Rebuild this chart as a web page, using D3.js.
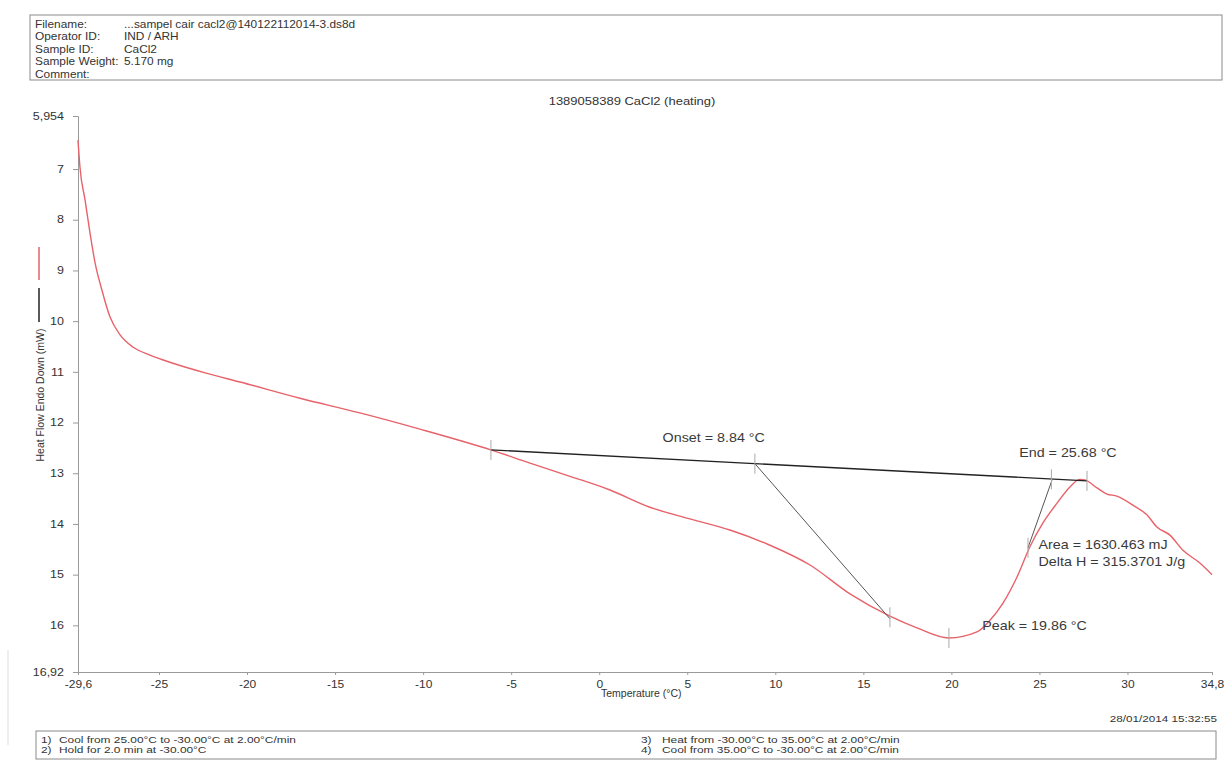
<!DOCTYPE html>
<html>
<head>
<meta charset="utf-8">
<script src="https://cdn.jsdelivr.net/npm/d3@7"></script>
<style>
  body { margin: 0; background: #fff; }
  svg text { font-family: "Liberation Sans", Arial, sans-serif; fill: #333; }
  .axis path, .axis line { stroke: #9a9a9a; }
  .axis text { font-size: 10px; fill: #333; }
</style>
</head>
<body>
<div id="chart-area"></div>
<script>
// header info
const headerLabels = ["Filename:", "Operator ID:", "Sample ID:", "Sample Weight:", "Comment:"];
const headerValues = ["...sampel cair cacl2@140122112014-3.ds8d", "IND / ARH", "CaCl2", "5.170 mg", ""];

// method steps
const stepNums = ["1)", "2)", "3)", "4)"];
const steps = ["Cool from 25.00°C to -30.00°C at 2.00°C/min", "Hold for 2.0 min at -30.00°C",
  "Heat from -30.00°C to 35.00°C at 2.00°C/min", "Cool from 35.00°C to -30.00°C at 2.00°C/min"];

// axis ticks
const xTicks = [-29.6, -25, -20, -15, -10, -5, 0, 5, 10, 15, 20, 25, 30, 34.8];
const yTicks = [5.954, 7, 8, 9, 10, 11, 12, 13, 14, 15, 16, 16.92];

// heat flow curve (temperature °C, heat flow mW)
const temps = [-29.6, -29.49, -29.2, -28.92, -28.63, -28.24, -27.78, -27.21, -26.48, -25.51,
  -24.21, -22.27, -20.4, -16.99, -13.59, -10.18, -6.15, -3.93, -1.66, 0.61,
  2.88, 5.15, 7.42, 9.7, 11.97, 14.24, 16.51, 18.04, 19.86, 21.45,
  22.19, 22.93, 23.72, 24.46, 25.2, 26.0, 26.73, 27.3, 27.58, 28.27,
  28.83, 29.4, 30.31, 31.1, 31.67, 32.41, 33.15, 34.11, 34.8];
const heatFlow = [6.43, 6.96, 7.61, 8.26, 8.85, 9.39, 9.92, 10.27, 10.51, 10.67,
  10.83, 11.03, 11.2, 11.52, 11.81, 12.13, 12.54, 12.8, 13.06, 13.33,
  13.67, 13.9, 14.12, 14.42, 14.81, 15.38, 15.82, 16.05, 16.25, 16.13,
  15.9, 15.56, 15.05, 14.45, 13.98, 13.59, 13.27, 13.12, 13.13, 13.29,
  13.41, 13.45, 13.63, 13.82, 14.06, 14.22, 14.52, 14.77, 15.0];

// baseline and tangents
const baseline = [[-6.15, 12.54], [27.7, 13.15]];
const onsetTangent = [[8.84, 12.81], [16.51, 15.87]];
const endTangent = [[25.71, 13.14], [24.35, 14.47]];
const markers = [[-6.15, 12.54], [8.84, 12.81], [16.51, 15.84], [19.86, 16.25], [24.35, 14.47], [25.68, 13.12], [27.7, 13.15]];

// annotations
const notes = [
  {t: 3.6, v: 12.38, text: "Onset = 8.84 °C"},
  {t: 23.85, v: 12.68, text: "End = 25.68 °C"},
  {t: 24.95, v: 14.49, text: "Area = 1630.463 mJ"},
  {t: 24.95, v: 14.83, text: "Delta H = 315.3701 J/g"},
  {t: 21.75, v: 16.09, text: "Peak = 19.86 °C"}
];

const W = 1224, H = 760;
const svg = d3.select("#chart-area").append("svg")
  .attr("width", W)
  .attr("height", H);

// the scanned printout has its text stretched sideways
function label(x, y, str, size, sx, anchor) {
  return svg.append("text")
    .attr("transform", "translate(" + x + "," + y + ") scale(" + sx + ",1)")
    .attr("text-anchor", anchor || "start")
    .style("font-size", size + "px")
    .text(str);
}

const x = d3.scaleLinear().domain([-29.6, 34.8]).range([78, 1212]);
const y = d3.scaleLinear().domain([5.954, 16.92]).range([116, 672]);

// header box
svg.append("rect")
  .attr("x", 30).attr("y", 15).attr("width", 1192).attr("height", 65)
  .attr("fill", "none").attr("stroke", "#8a8a8a").attr("stroke-width", 1);
headerLabels.forEach((l, i) => {
  label(35, 28 + i * 12.4, l, 10.5, 1.13);
  label(124, 28 + i * 12.4, headerValues[i], 10.5, 1.13);
});

// chart title
label(632, 105, "1389058389 CaCl2 (heating)", 10, 1.3, "middle");

// axes
const xAxis = d3.axisBottom(x)
  .tickValues(xTicks)
  .tickSize(3)
  .tickPadding(6)
  .tickFormat(d => String(d).replace(".", ","));
const yAxis = d3.axisLeft(y)
  .tickValues(yTicks)
  .tickSize(5)
  .tickPadding(9)
  .tickFormat(d => String(d).replace(".", ","));

svg.append("g")
  .attr("class", "axis x-axis")
  .attr("transform", "translate(0," + y(16.92) + ")")
  .call(xAxis)
  .selectAll("text")
  .attr("transform", "scale(1.2,1)");

const gy = svg.append("g")
  .attr("class", "axis y-axis")
  .attr("transform", "translate(" + x(-29.6) + ",0)")
  .call(yAxis);
gy.select(".domain").attr("stroke", "#c8c8c8");
gy.selectAll("text")
  .attr("x", 0)
  .attr("transform", "translate(-14,0) scale(1.25,1)");

// axis labels
label(601, 697, "Temperature (°C)", 10, 1.05);

svg.append("text")
  .attr("transform", "translate(44,395) rotate(-90)")
  .attr("text-anchor", "middle")
  .style("font-size", "10.5px")
  .text("Heat Flow Endo Down (mW)");

// legend marks next to y label
svg.append("line").attr("x1", 39).attr("x2", 39).attr("y1", 247).attr("y2", 280)
  .attr("stroke", "#e0606a").attr("stroke-width", 1.5);
svg.append("line").attr("x1", 39).attr("x2", 39).attr("y1", 288).attr("y2", 322)
  .attr("stroke", "#222").attr("stroke-width", 1.5);

const line = d3.line()
  .x(d => x(d[0]))
  .y(d => y(d[1]));

// curve
const curve = temps.map((t, i) => [t, heatFlow[i]]);
svg.append("path")
  .datum(curve)
  .attr("fill", "none")
  .attr("stroke", "#e8626a")
  .attr("stroke-width", 1.4)
  .attr("d", d3.line().x(d => x(d[0])).y(d => y(d[1])).curve(d3.curveMonotoneX));

// baseline + tangents
svg.append("path").datum(baseline)
  .attr("fill", "none").attr("stroke", "#222").attr("stroke-width", 1.4)
  .attr("d", line);
[onsetTangent, endTangent].forEach(seg => {
  svg.append("path").datum(seg)
    .attr("fill", "none").attr("stroke", "#555").attr("stroke-width", 1)
    .attr("d", line);
});

// marker ticks
svg.selectAll(".marker")
  .data(markers)
  .enter().append("line")
  .attr("class", "marker")
  .attr("x1", d => x(d[0])).attr("x2", d => x(d[0]))
  .attr("y1", d => y(d[1]) - 10).attr("y2", d => y(d[1]) + 10)
  .attr("stroke", "#aaa").attr("stroke-width", 1);

// annotation texts
notes.forEach(d => {
  label(x(d.t), y(d.v), d.text, 13, 1.1).style("fill", "#3a3a3a");
});

// timestamp
label(1217, 722, "28/01/2014 15:32:55", 9, 1.3, "end");

// footer box
svg.append("rect")
  .attr("x", 36).attr("y", 731).attr("width", 1180).attr("height", 28)
  .attr("fill", "none").attr("stroke", "#8a8a8a").attr("stroke-width", 1);
steps.forEach((s, i) => {
  const bx = i < 2 ? 41 : 641;
  const by = 743 + (i % 2) * 10;
  label(bx, by, stepNums[i], 8.5, 1.4);
  label(bx + (i < 2 ? 18 : 21), by, s, 8.5, 1.4);
});

// scan edge
svg.append("line").attr("x1", 8).attr("x2", 8).attr("y1", 650).attr("y2", 745)
  .attr("stroke", "#ddd").attr("stroke-width", 1);
</script>
</body>
</html>
